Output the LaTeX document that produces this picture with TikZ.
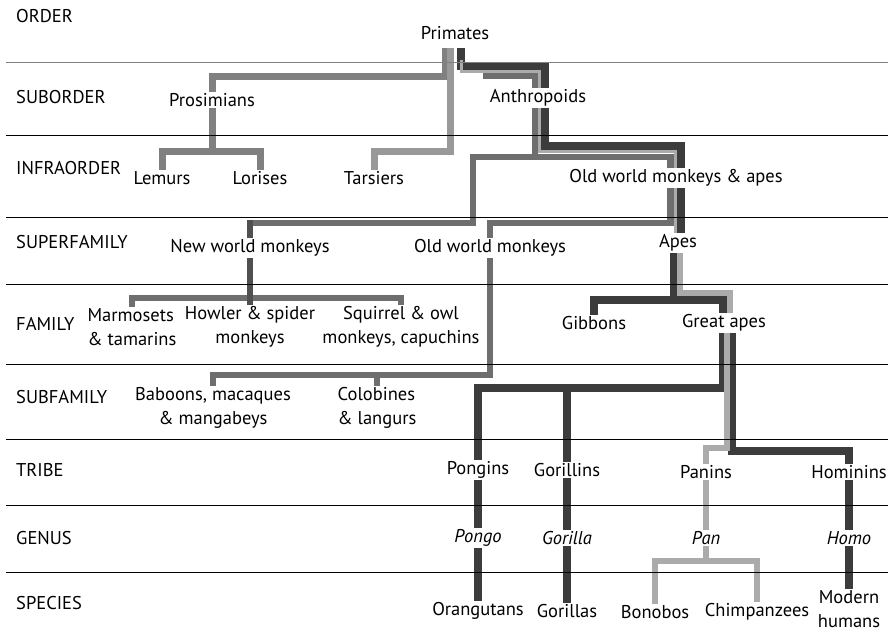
\documentclass[tikz,border=0pt]{standalone}
\usepackage{fontspec}
\setmainfont{PT Sans}
\usetikzlibrary{backgrounds}
\definecolor{lineDark}{HTML}{3C3C3C}
\definecolor{lineNwm}{HTML}{505050}
\definecolor{lineMid}{HTML}{6E6E6E}
\definecolor{linePro}{HTML}{808080}
\definecolor{lineTar}{HTML}{999999}
\definecolor{lineLight}{HTML}{ABABAB}
\newcommand\taxfont{\fontsize{18.5}{24}\selectfont}
\tikzset{
  tx/.style={fill=white, inner sep=1.5pt, align=center, font=\taxfont},
  rank/.style={anchor=west, inner sep=0pt, font=\taxfont},
  lin/.style={line join=miter, line cap=butt},
  dkl/.style={lin, lineDark, line width=8pt},
  mid/.style={lin, lineMid, line width=6.5pt},
  nwmdk/.style={lin, lineNwm, line width=6.5pt},
  pro/.style={lin, linePro, line width=7pt},
  tars/.style={lin, lineTar, line width=7pt},
  lt/.style={lin, lineLight, line width=6.5pt},
  ltthin/.style={lin, lineLight, line width=3pt},
  rule/.style={line width=1pt, black},
}
\begin{document}
\begin{tikzpicture}[x=1pt,y=-1pt]
\useasboundingbox (0,0) rectangle (888,635);
\node[rank] (rOrd) at (16,16) {ORDER};
\node[rank] (rSubord) at (16,97) {SUBORDER};
\node[rank] (rInfra) at (16,168) {INFRAORDER};
\node[rank] (rSuper) at (16,242) {SUPERFAMILY};
\node[rank] (rFam) at (16,324) {FAMILY};
\node[rank] (rSubfam) at (16,397) {SUBFAMILY};
\node[rank] (rTribe) at (16,470) {TRIBE};
\node[rank] (rGenus) at (16,538) {GENUS};
\node[rank] (rSpec) at (16,603) {SPECIES};

\node[tx] (pri) at (455,33) {Primates};
\node[tx] (pros) at (212,100) {Prosimians};
\node[tx] (anth) at (538,98) {Anthropoids};
\node[tx] (lem) at (162,178) {Lemurs};
\node[tx] (lor) at (260,178) {Lorises};
\node[tx] (tar) at (374,178) {Tarsiers};
\node[tx] (owma) at (676,178) {Old world monkeys \& apes};
\node[tx] (nwm) at (250,248) {New world monkeys};
\node[tx] (owm) at (490,248) {Old world monkeys};
\node[tx] (apes) at (678,243) {Apes};
\node[tx,align=left] (marm) at (132,327) {Marmosets\\\& tamarins};
\node[tx] (howl) at (250,327) {Howler \& spider\\monkeys};
\node[tx] (squi) at (401,327) {Squirrel \& owl\\monkeys, capuchins};
\node[tx] (gib) at (594,323) {Gibbons};
\node[tx] (grt) at (724,323) {Great apes};
\node[tx] (bab) at (213,408) {Baboons, macaques\\\& mangabeys};
\node[tx,align=left] (col) at (377,408) {Colobines\\\& langurs};
\node[tx] (pgn) at (478,470) {Pongins};
\node[tx] (grl) at (567,470) {Gorillins};
\node[tx] (pns) at (706,472) {Panins};
\node[tx] (hmn) at (849,472) {Hominins};
\node[tx,font=\taxfont\itshape] (pongo) at (478,538) {Pongo};
\node[tx,font=\taxfont\itshape] (gorilla) at (567,538) {Gorilla};
\node[tx,font=\taxfont\itshape] (pan) at (706,538) {Pan};
\node[tx,font=\taxfont\itshape] (homo) at (849,538) {Homo};
\node[tx] (ora) at (478,611) {Orangutans};
\node[tx] (gor) at (567,611) {Gorillas};
\node[tx] (bon) at (655,612) {Bonobos};
\node[tx] (chi) at (757,612) {Chimpanzees};
\node[tx] (hum) at (849,609) {Modern\\humans};

\coordinate (prosTop) at (445,48);
\coordinate (prosBend) at (445,76);
\coordinate (prosLow) at (212,151);
\coordinate (tarTop) at (450,48);
\coordinate (tarBend) at (450,151);
\coordinate (hTop) at (461,48);
\coordinate (hA) at (461,66);
\coordinate (hB) at (545,146);
\coordinate (hApes) at (681,243);
\coordinate (lTop) at (461,60);
\coordinate (lA) at (461,71.5);
\coordinate (lB) at (539.5,151.5);
\coordinate (lApes) at (675.5,243);
\coordinate (mTop) at (483,75.5);
\coordinate (mSplit) at (535,157);
\coordinate (owmBend) at (670.5,223);
\coordinate (nwmBend) at (473,223);
\coordinate (nwmCorner) at (250,219.5);
\coordinate (nwmLow) at (250,298);
\coordinate (owmLow) at (490,375);
\coordinate (apesDk) at (674,243);
\coordinate (apesLow) at (674,300);
\coordinate (gaDk) at (723,323);
\coordinate (gaLow) at (723,388);
\coordinate (hmTop) at (732,323);
\coordinate (hmBend) at (732,451);
\coordinate (lApes2) at (680,243);
\coordinate (lC) at (680,293);
\coordinate (lGa) at (730,323);
\coordinate (lGa2) at (727,323);
\coordinate (lD) at (727,448);
\coordinate (panLow) at (706,561);

\begin{scope}[on background layer]
\draw[dkl] (hTop) -- (hA) -| (hB) -| (hApes);
\draw[dkl] (apesDk) -- (apesLow) -| (gib);
\draw[dkl] (hmTop) -- (hmBend) -| (hmn) -- (homo) -- (hum);
\draw[dkl] (apesLow) -| (gaDk) -- (gaLow) -| (pgn) -- (pongo) -- (ora);
\draw[dkl] (grl |- gaLow) -- (grl) -- (gorilla) -- (gor);
\draw[pro] (prosTop) -- (prosBend) -| (pros) -- (prosLow);
\draw[pro] (lem) |- (prosLow) -| (lor);
\draw[tars] (tarTop) -- (tarBend) -| (tar);
\draw[mid] (mTop) -| (mSplit);
\draw[mid] (mSplit) -| (owmBend) -| (owm) -- (owmLow) -| (bab);
\draw[mid] (col) -- (col |- owmLow);
\draw[mid] (mSplit) -| (nwmBend) -| (nwm);
\draw[mid] (marm) |- (nwmLow) -| (squi);
\draw[nwmdk] (nwmCorner) -- (nwm) -- (howl);
\draw[ltthin] (lTop) -- (lA) -| (lB) -| (lApes);
\draw[lt] (lApes2) -- (lC) -| (lGa);
\draw[lt] (lGa2) -- (lD) -| (pns) -- (pan) -- (panLow);
\draw[lt] (bon) |- (panLow) -| (chi);
\draw[rule, linePro] (6,62) -- (888,62);
\foreach \y in {135,217,284,364,439,505,572}
  \draw[rule] (6,\y) -- (888,\y);
\end{scope}
\end{tikzpicture}
\end{document}
